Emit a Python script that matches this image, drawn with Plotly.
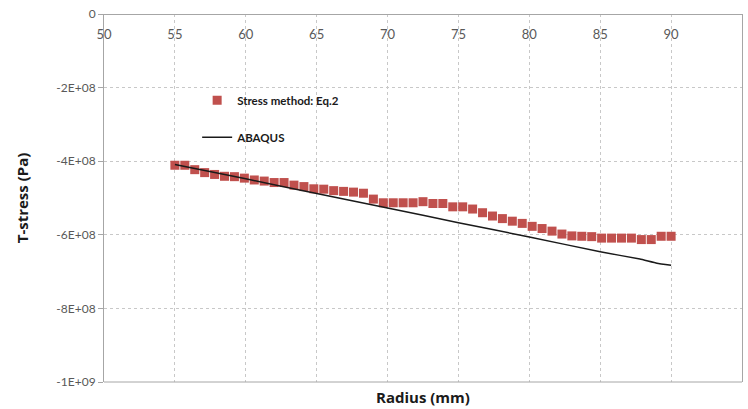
import plotly.graph_objects as go

# ---- data ----
radius_eq2 = [55.0, 55.7, 56.4, 57.1, 57.8, 58.5, 59.2, 59.9, 60.6, 61.3,
              62.0, 62.7, 63.4, 64.1, 64.8, 65.5, 66.2, 66.9, 67.6, 68.3,
              69.0, 69.7, 70.4, 71.1, 71.8, 72.5, 73.2, 73.9, 74.6, 75.3,
              76.0, 76.7, 77.4, 78.1, 78.8, 79.5, 80.2, 80.9, 81.6, 82.3,
              83.0, 83.7, 84.4, 85.1, 85.8, 86.5, 87.2, 87.9, 88.6, 89.3, 90.0]
tstress_eq2 = [-4.11e8, -4.11e8, -4.23e8, -4.31e8, -4.36e8, -4.41e8, -4.42e8, -4.46e8, -4.51e8, -4.54e8,
               -4.58e8, -4.58e8, -4.65e8, -4.69e8, -4.75e8, -4.76e8, -4.80e8, -4.82e8, -4.84e8, -4.87e8,
               -5.03e8, -5.13e8, -5.13e8, -5.13e8, -5.13e8, -5.10e8, -5.15e8, -5.15e8, -5.24e8, -5.24e8,
               -5.30e8, -5.40e8, -5.49e8, -5.56e8, -5.63e8, -5.69e8, -5.77e8, -5.83e8, -5.90e8, -5.98e8,
               -6.03e8, -6.04e8, -6.05e8, -6.09e8, -6.09e8, -6.09e8, -6.09e8, -6.13e8, -6.13e8, -6.04e8, -6.04e8]

radius_abaqus = [55, 60, 65, 70, 75, 80, 85, 87.8, 89, 90]
tstress_abaqus = [-4.09e8, -4.48e8, -4.88e8, -5.27e8, -5.67e8, -6.06e8, -6.46e8, -6.66e8, -6.77e8, -6.83e8]

x_ticks = [50, 55, 60, 65, 70, 75, 80, 85, 90, 95]
y_tickvals = [0, -2e8, -4e8, -6e8, -8e8, -1e9]
y_ticktext = ["0", "-2E+08", "-4E+08", "-6E+08", "-8E+08", "-1E+09"]

FONT = "Lato"
TITLE_FONT = "Open Sans"
AXIS_GRAY = "#a6a6a6"
GRID_GRAY = "#c8c8c8"
TICK_GRAY = "#595959"

fig = go.Figure()
fig.add_trace(go.Scatter(
    x=radius_eq2, y=tstress_eq2, mode="markers", name="Stress method: Eq.2",
    marker=dict(symbol="square", size=9, color="#c0504d"),
    legendgroup="a",
))
fig.add_trace(go.Scatter(
    x=radius_abaqus, y=tstress_abaqus, mode="lines", name="ABAQUS",
    line=dict(color="#1a1a1a", width=1.5, shape="spline", smoothing=0.3),
    legendgroup="b",
))

fig.update_layout(
    width=748, height=409,
    margin=dict(l=104, r=6, t=14, b=27),
    paper_bgcolor="white", plot_bgcolor="white",
    font=dict(family=FONT, size=12, color=TICK_GRAY),
    showlegend=True,
    legend=dict(
        x=0.146, y=0.805, xanchor="left", yanchor="top",
        bgcolor="rgba(0,0,0,0)", traceorder="grouped", tracegroupgap=18,
        font=dict(family=FONT, size=11.5, color="#1a1a1a", weight="bold"),
    ),
    xaxis=dict(
        range=[50, 95], tickvals=x_ticks, side="bottom",
        anchor="free", position=1.0, ticklabelstandoff=8,
        showline=True, linecolor=AXIS_GRAY, linewidth=1,
        showgrid=True, gridcolor=GRID_GRAY, griddash="dot", gridwidth=1,
        zeroline=False, ticks="",
        tickfont=dict(family=FONT, size=13, color=TICK_GRAY),
    ),
    yaxis=dict(
        range=[-1e9, 0], tickvals=y_tickvals, ticktext=y_ticktext,
        showline=True, linecolor=AXIS_GRAY, linewidth=1, mirror=True,
        showgrid=True, gridcolor=GRID_GRAY, griddash="dot", gridwidth=1,
        zeroline=False, ticks="outside", ticklen=5, tickcolor=AXIS_GRAY,
        tickfont=dict(family=FONT, size=12, color=TICK_GRAY),
        title=dict(text="T-stress (Pa)", standoff=24,
                   font=dict(family=TITLE_FONT, size=15, color="#1a1a1a", weight="bold")),
    ),
    shapes=[dict(type="line", xref="paper", yref="paper", x0=0, x1=1, y0=0, y1=0,
                 line=dict(color=AXIS_GRAY, width=1))],
    annotations=[dict(
        text="Radius (mm)", x=0.5, y=0, xref="paper", yref="paper",
        xanchor="center", yanchor="top", yshift=-3, showarrow=False,
        font=dict(family=TITLE_FONT, size=15, color="#1a1a1a", weight="bold"),
    )],
)

fig.write_html("out.html")
